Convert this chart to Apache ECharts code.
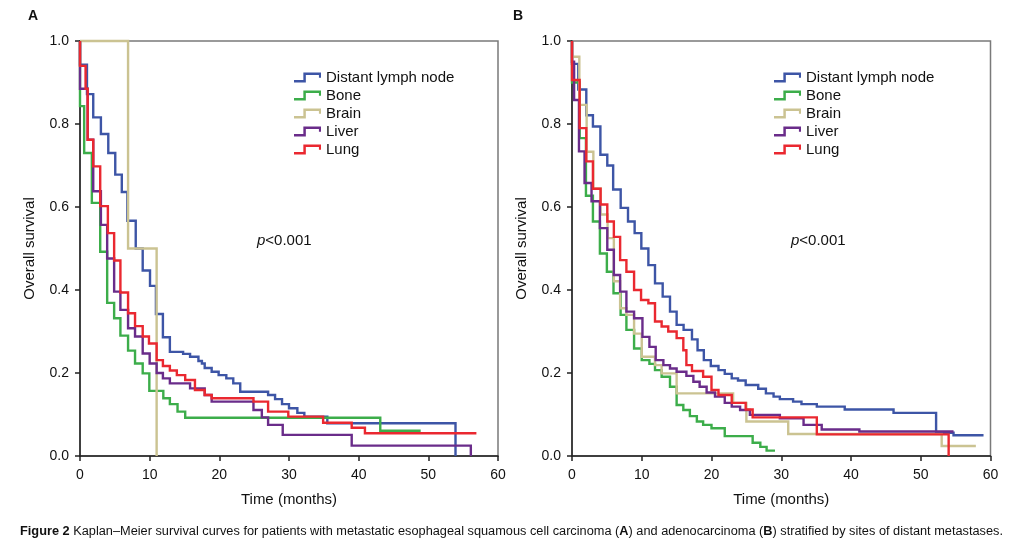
<!DOCTYPE html>
<html>
<head>
<meta charset="utf-8">
<script src="https://cdn.jsdelivr.net/npm/echarts@6/dist/echarts.min.js"></script>
<style>
html,body{margin:0;padding:0;background:#fff;}
#chart{width:1009px;height:544px;}
</style>
</head>
<body>
<div id="chart"></div>
<script>
// ---- Data (time in months, survival after that time) ----
const seriesNames = ['Distant lymph node', 'Bone', 'Brain', 'Liver', 'Lung'];
const xTicks = [0, 10, 20, 30, 40, 50, 60];
const yTicks = [0.0, 0.2, 0.4, 0.6, 0.8, 1.0];

// Panel A: squamous cell carcinoma
const aLymph = [[0,1],[0,0.943],[1.0,0.872],[1.9,0.816],[3.0,0.776],[4.06,0.73],[5.06,0.678],[6.0,0.636],[6.8,0.567],[8.0,0.50],[9.0,0.447],[10.05,0.41],[10.9,0.342],[11.9,0.286],[12.9,0.251],[14.8,0.246],[15.8,0.239],[17.0,0.229],[17.5,0.223],[17.9,0.212],[18.9,0.203],[19.9,0.195],[21.0,0.187],[22.0,0.175],[23.0,0.155],[27.0,0.147],[28.0,0.137],[29.0,0.125],[30.0,0.115],[31.2,0.104],[32.2,0.095],[35.5,0.079],[53.9,0]];
const aBone = [[0,1],[0,0.843],[0.6,0.73],[1.7,0.61],[2.9,0.492],[3.9,0.369],[4.9,0.332],[5.8,0.29],[6.9,0.254],[7.9,0.223],[9.0,0.199],[9.95,0.157],[11.96,0.139],[12.9,0.125],[14.0,0.107],[15.1,0.092],[43.1,0.061],[48.9,0.061]];
const aBrain = [[0,1],[6.9,0.5],[11.0,0]];
const aLiver = [[0,1],[0,0.885],[1.1,0.762],[1.9,0.638],[3.0,0.557],[3.9,0.476],[4.9,0.396],[5.8,0.352],[6.9,0.308],[7.9,0.288],[9.0,0.247],[10.0,0.223],[11.0,0.20],[11.9,0.187],[12.9,0.175],[15.8,0.163],[17.9,0.147],[18.9,0.131],[24.9,0.111],[26.1,0.093],[27.0,0.075],[29.1,0.051],[39.0,0.025],[56.1,0]];
const aLung = [[0,1],[0,0.94],[0.8,0.885],[1.1,0.762],[1.9,0.698],[2.9,0.602],[4.0,0.537],[4.9,0.471],[5.8,0.394],[6.9,0.344],[7.9,0.313],[9.0,0.288],[9.9,0.271],[11.0,0.231],[11.9,0.217],[12.9,0.206],[13.9,0.195],[15.1,0.183],[16.5,0.159],[17.9,0.147],[18.9,0.139],[24.9,0.131],[27.0,0.107],[29.9,0.095],[34.9,0.08],[39.0,0.068],[40.9,0.055],[56.9,0.055]];

// Panel B: adenocarcinoma
const bLymph = [[0,1],[0,0.945],[0.9,0.883],[2.05,0.821],[3.0,0.794],[4.07,0.726],[5.06,0.70],[5.9,0.642],[6.98,0.598],[8.03,0.565],[8.98,0.537],[9.94,0.50],[10.95,0.46],[11.9,0.416],[13.0,0.384],[14.05,0.348],[15.0,0.316],[16.0,0.304],[17.2,0.281],[18.0,0.255],[18.9,0.231],[19.9,0.217],[21.0,0.207],[21.9,0.198],[22.9,0.187],[23.8,0.182],[24.9,0.171],[26.7,0.162],[27.8,0.151],[28.9,0.143],[29.8,0.137],[31.7,0.131],[32.9,0.125],[35.1,0.119],[39.1,0.112],[46.1,0.104],[52.2,0.056],[54.7,0.05],[59.0,0.05]];
const bBone = [[0,1],[0,0.90],[1.1,0.766],[2.0,0.627],[3.0,0.565],[4.0,0.488],[5.0,0.444],[5.95,0.392],[6.97,0.34],[7.8,0.304],[8.9,0.259],[10.0,0.231],[11.1,0.222],[11.9,0.207],[12.85,0.191],[14.05,0.167],[15.0,0.123],[15.96,0.111],[16.9,0.096],[17.9,0.083],[18.8,0.075],[20.0,0.067],[21.9,0.048],[25.9,0.032],[27.0,0.022],[27.9,0.013],[29.1,0.013]];
const bBrain = [[0,1],[0,0.962],[1.05,0.846],[2.1,0.733],[3.06,0.645],[4.1,0.582],[5.1,0.525],[6.0,0.421],[6.9,0.356],[7.8,0.34],[8.9,0.295],[10.0,0.239],[11.9,0.219],[12.85,0.199],[15.0,0.151],[23.1,0.128],[25.0,0.083],[31.0,0.053],[53.0,0.024],[57.9,0.024]];
const bLiver = [[0,1],[0,0.95],[0.3,0.858],[1.0,0.734],[1.8,0.658],[2.8,0.614],[4.0,0.549],[5.06,0.497],[6.0,0.436],[6.9,0.396],[7.8,0.348],[8.9,0.332],[10.1,0.287],[11.1,0.263],[12.0,0.231],[13.1,0.219],[14.05,0.211],[15.0,0.203],[16.4,0.193],[17.4,0.179],[18.3,0.167],[19.3,0.153],[20.5,0.143],[21.9,0.128],[22.9,0.119],[24.1,0.111],[25.5,0.099],[29.8,0.091],[33.2,0.075],[35.8,0.064],[41.2,0.059],[54.7,0.059]];
const bLung = [[0,1],[0,0.906],[1.1,0.79],[2.05,0.71],[3.0,0.644],[4.1,0.606],[5.06,0.565],[6.0,0.528],[6.9,0.472],[7.8,0.444],[8.9,0.40],[9.9,0.376],[10.95,0.368],[11.9,0.324],[12.85,0.312],[13.8,0.30],[15.0,0.284],[15.96,0.255],[16.4,0.219],[17.2,0.205],[18.8,0.191],[20.0,0.159],[21.0,0.147],[22.9,0.128],[24.9,0.112],[25.9,0.093],[35.1,0.052],[54.0,0]];

const panelA = [aLymph, aBone, aBrain, aLiver, aLung];
const panelB = [bLymph, bBone, bBrain, bLiver, bLung];
const colors = ['#3D55A6', '#3CAD4A', '#CBC392', '#6A2C8A', '#EA2830'];

const FONT = 'Liberation Sans, Arial, sans-serif';
const chart = echarts.init(document.getElementById('chart'), null, {renderer: 'canvas'});

function xAxisFor(gi) {
  return {
    gridIndex: gi, type: 'value', min: 0, max: 60, interval: 10,
    name: 'Time (months)', nameLocation: 'middle', nameGap: 36,
    nameTextStyle: {fontFamily: FONT, fontSize: 15, color: '#111'},
    axisLine: {show: true, onZero: false, lineStyle: {color: '#222', width: 1.5}},
    axisTick: {show: true, inside: false, length: 5, lineStyle: {color: '#222', width: 1.5}},
    axisLabel: {fontFamily: FONT, fontSize: 14, color: '#111', margin: 12,
      formatter: v => xTicks.includes(v) ? String(v) : ''},
    splitLine: {show: false}
  };
}
function yAxisFor(gi) {
  return {
    gridIndex: gi, type: 'value', min: 0, max: 1, interval: 0.2,
    name: 'Overall survival', nameLocation: 'middle', nameGap: 43,
    nameTextStyle: {fontFamily: FONT, fontSize: 15, color: '#111'},
    axisLine: {show: true, onZero: false, lineStyle: {color: '#222', width: 1.5}},
    axisTick: {show: true, inside: false, length: 5, lineStyle: {color: '#222', width: 1.5}},
    axisLabel: {fontFamily: FONT, fontSize: 14, color: '#111', margin: 11,
      formatter: v => yTicks.some(t => Math.abs(t - v) < 1e-6) ? v.toFixed(1) : ''},
    splitLine: {show: false}
  };
}

const series = [];
[panelA, panelB].forEach((panel, gi) => {
  panel.forEach((d, i) => {
    series.push({
      name: seriesNames[i], type: 'line', step: 'end',
      xAxisIndex: gi, yAxisIndex: gi,
      data: d, showSymbol: false, symbol: 'none', clip: false,
      lineStyle: {color: colors[i], width: 2.4, join: 'miter'},
      itemStyle: {color: colors[i]},
      z: 2 + i, animation: false
    });
  });
});

const stepIcon = 'path://M0,7 L9,7 L9,0 L26,0 L26,5 L24,5 L24,2.4 L11.4,2.4 L11.4,9.4 L0,9.4 Z';
function legendFor(left) {
  return {
    orient: 'vertical', left: left, top: 65,
    itemWidth: 27, itemHeight: 10, itemGap: 3,
    icon: stepIcon, selectedMode: false,
    textStyle: {fontFamily: FONT, fontSize: 15, color: '#111', padding: [0, 0, 0, 0]},
    data: seriesNames
  };
}

const caption1 = 'Figure 2';
const caption2 = ' Kaplan\u2013Meier survival curves for patients with metastatic esophageal squamous cell carcinoma (';
const caption3 = ') and adenocarcinoma (';
const caption4 = ') stratified by sites of distant metastases.';

// scale the caption to its measured width
const cv = document.createElement('canvas').getContext('2d');
function w(txt, bold) { cv.font = (bold ? 'bold ' : '') + '12px ' + FONT; return cv.measureText(txt).width; }
const capWidth = w(caption1, true) + w(caption2) + w('A', true) + w(caption3) + w('B', true) + w(caption4);
const capScale = 983 / capWidth;

chart.setOption({
  backgroundColor: '#fff',
  animation: false,
  grid: [
    {left: 80, top: 41, width: 418, height: 415, show: true, borderColor: '#7a7a7a', borderWidth: 1.5, backgroundColor: 'transparent'},
    {left: 572, top: 41, width: 418.5, height: 415, show: true, borderColor: '#7a7a7a', borderWidth: 1.5, backgroundColor: 'transparent'}
  ],
  xAxis: [xAxisFor(0), xAxisFor(1)],
  yAxis: [yAxisFor(0), yAxisFor(1)],
  legend: [legendFor(289), legendFor(769)],
  series: series,
  graphic: [
    {type: 'text', left: 28, top: 9, style: {text: 'A', font: 'bold 14px ' + FONT, fill: '#111'}},
    {type: 'text', left: 513, top: 9, style: {text: 'B', font: 'bold 14px ' + FONT, fill: '#111'}},
    {type: 'text', left: 257, top: 233, style: {text: '{i|p}<0.001', font: '15px ' + FONT, fill: '#111',
      rich: {i: {fontStyle: 'italic', fontFamily: FONT, fontSize: 15, fill: '#111'}}}},
    {type: 'text', left: 791, top: 233, style: {text: '{i|p}<0.001', font: '15px ' + FONT, fill: '#111',
      rich: {i: {fontStyle: 'italic', fontFamily: FONT, fontSize: 15, fill: '#111'}}}},
    {type: 'text', x: 20, y: 526, scaleX: capScale, style: {
      text: '{b|' + caption1 + '}' + caption2 + '{b|A}' + caption3 + '{b|B}' + caption4,
      font: '12px ' + FONT, fill: '#111',
      rich: {b: {fontWeight: 'bold', fontFamily: FONT, fontSize: 12, fill: '#111'}}}}
  ]
});
</script>
</body>
</html>
